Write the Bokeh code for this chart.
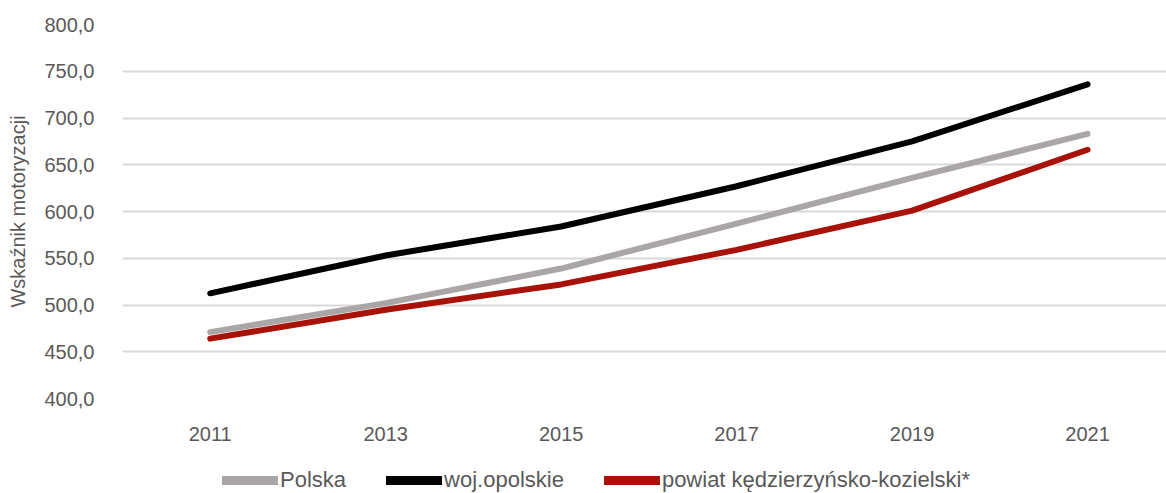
from bokeh.plotting import figure
from bokeh.layouts import column
from bokeh.models import Range1d, FixedTicker, CustomJSTickFormatter, Legend, LegendItem
from bokeh.embed import file_html
from bokeh.resources import INLINE

years = [2011, 2013, 2015, 2017, 2019, 2021]
polska = [471.0, 502.0, 539.0, 587.0, 636.0, 683.0]
opolskie = [512.5, 553.0, 584.0, 627.0, 675.0, 736.0]
powiat = [464.0, 495.0, 522.0, 559.0, 601.0, 666.0]
y_ticks = [400, 450, 500, 550, 600, 650, 700, 750, 800]
series_names = ["Polska", "woj.opolskie", "powiat kędzierzyńsko-kozielski*"]
series_values = [polska, opolskie, powiat]

FONT = "Liberation Sans"
TXT = "#595959"
FS = "20px"
colors = ["#aaa6a5", "#000000", "#a91208"]

p = figure(width=1166, height=458, output_backend="svg", toolbar_location=None,
           x_range=Range1d(2010.0, 2021.9), y_range=Range1d(400, 800),
           min_border_left=122, min_border_right=0, min_border_top=24, min_border_bottom=60)
p.outline_line_color = None
p.background_fill_color = "white"

p.xgrid.grid_line_color = None
p.ygrid.grid_line_color = "#d9d9d9"
p.ygrid.grid_line_width = 2
p.ygrid.ticker = FixedTicker(ticks=y_ticks)

p.yaxis.ticker = FixedTicker(ticks=y_ticks)
p.yaxis.formatter = CustomJSTickFormatter(code="return tick.toFixed(1).replace('.', ',');")
p.yaxis.axis_line_color = None
p.yaxis.major_tick_line_color = None
p.yaxis.minor_tick_line_color = None
p.yaxis.major_label_text_font = FONT
p.yaxis.major_label_text_font_size = FS
p.yaxis.major_label_text_color = TXT
p.yaxis.major_label_standoff = 22
p.yaxis.axis_label = "Wskaźnik motoryzacji"
p.yaxis.axis_label_text_font = FONT
p.yaxis.axis_label_text_font_size = FS
p.yaxis.axis_label_text_font_style = "normal"
p.yaxis.axis_label_text_color = TXT
p.yaxis.axis_label_standoff = 12

p.xaxis.ticker = FixedTicker(ticks=years)
p.xaxis.axis_line_color = None
p.xaxis.major_tick_line_color = None
p.xaxis.minor_tick_line_color = None
p.xaxis.major_label_text_font = FONT
p.xaxis.major_label_text_font_size = FS
p.xaxis.major_label_text_color = TXT
p.xaxis.major_label_standoff = 22

for vals, c in zip(series_values, colors):
    p.line(years, vals, line_color=c, line_width=6, line_cap="round", line_join="round")

# legend strip below the chart
lg = figure(width=1166, height=35, output_backend="svg", toolbar_location=None,
            x_range=Range1d(0, 1), y_range=Range1d(0, 1),
            min_border_left=0, min_border_right=0, min_border_top=0, min_border_bottom=0)
lg.axis.visible = False
lg.grid.grid_line_color = None
lg.outline_line_color = None
items = []
for name, vals, c in zip(series_names, series_values, colors):
    r = lg.line(years, vals, line_color=c, line_width=9, line_cap="round")
    items.append(LegendItem(label=name, renderers=[r]))

legend = Legend(items=items, orientation="horizontal", location=(100, 0))
legend.label_text_font = FONT
legend.label_text_font_size = "22px"
legend.label_text_color = TXT
legend.glyph_width = 56
legend.glyph_height = 24
legend.label_height = 24
legend.label_standoff = 2
legend.spacing = 40
legend.border_line_color = None
legend.background_fill_alpha = 0
legend.padding = 0
legend.margin = 0
lg.add_layout(legend, "center")

layout = column(p, lg, spacing=0)
open("out.html", "w").write(file_html(layout, INLINE))
